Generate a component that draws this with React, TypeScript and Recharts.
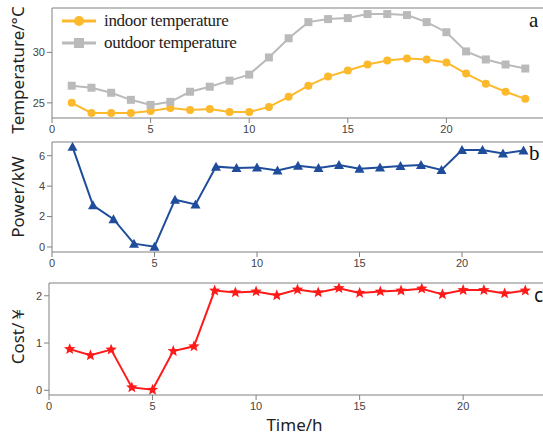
import { LineChart, Line, XAxis, YAxis, ReferenceLine } from "recharts";

const hours = [1, 2, 3, 4, 5, 6, 7, 8, 9, 10, 11, 12, 13, 14, 15, 16, 17, 18, 19, 20, 21, 22, 23, 24];
const indoorTemp = [25.0, 24.0, 24.0, 24.0, 24.2, 24.5, 24.3, 24.4, 24.1, 24.1, 24.6, 25.6, 26.7, 27.6, 28.2, 28.8, 29.2, 29.4, 29.3, 29.0, 27.9, 26.9, 26.1, 25.4];
const outdoorTemp = [26.7, 26.5, 26.0, 25.3, 24.8, 25.1, 26.1, 26.6, 27.2, 27.8, 29.5, 31.4, 33.0, 33.3, 33.4, 33.8, 33.8, 33.7, 33.0, 32.0, 30.1, 29.3, 28.8, 28.4];
const power = [6.58, 2.74, 1.83, 0.22, 0.02, 3.11, 2.8, 5.28, 5.19, 5.23, 5.03, 5.34, 5.19, 5.39, 5.14, 5.23, 5.32, 5.39, 5.06, 6.38, 6.38, 6.14, 6.34];
const cost = [0.87, 0.74, 0.86, 0.06, 0.01, 0.83, 0.93, 2.11, 2.07, 2.09, 2.01, 2.13, 2.07, 2.16, 2.06, 2.09, 2.11, 2.15, 2.03, 2.12, 2.12, 2.05, 2.11];

const xTicks = [0, 5, 10, 15, 20];
const tempTicks = [25, 30];
const powerTicks = [0, 2, 4, 6];
const costTicks = [0, 1, 2];
const tempDomain = [23.5, 34.4];
const powerDomain = [-0.33, 6.9];
const costDomain = [-0.1, 2.27];

const tempData = hours.map((h, i) => ({ hour: h, indoor: indoorTemp[i], outdoor: outdoorTemp[i] }));
const powerData = power.map((v, i) => ({ hour: hours[i], power: v }));
const costData = cost.map((v, i) => ({ hour: hours[i], cost: v }));

const C = {
  indoor: "#fdb92c",
  outdoor: "#bababa",
  power: "#1f4d9c",
  cost: "#ff1a1a",
  axis: "#808080",
  tick: "#444",
};

const tickStyle = { fill: C.tick, fontSize: 11, fontFamily: "Liberation Sans, Arial, sans-serif" };
const titleFont = "Noto Sans, sans-serif";

const CircleDot = (p: any) => <circle key={p.key} cx={p.cx} cy={p.cy} r={4} fill={C.indoor} />;
const SquareDot = (p: any) => <rect key={p.key} x={p.cx - 4} y={p.cy - 4} width={8} height={8} fill={C.outdoor} />;
const TriDot = (p: any) => (
  <path key={p.key} d={`M${p.cx},${p.cy - 5}L${p.cx + 5},${p.cy + 4}L${p.cx - 5},${p.cy + 4}Z`} fill={C.power} />
);
const starPath = (cx: number, cy: number, ro: number, ri: number) => {
  let d = "";
  for (let k = 0; k < 10; k++) {
    const r = k % 2 ? ri : ro;
    const a = -Math.PI / 2 + (k * Math.PI) / 5;
    d += (k ? "L" : "M") + (cx + r * Math.cos(a)).toFixed(2) + "," + (cy + r * Math.sin(a)).toFixed(2);
  }
  return d + "Z";
};
const StarDot = (p: any) => <path key={p.key} d={starPath(p.cx, p.cy, 6, 2.6)} fill={C.cost} />;

const yTitle = (text: string, dx: number, dy: number) => ({
  content: ({ viewBox }: any) => {
    const x = viewBox.x + dx;
    const y = viewBox.y + viewBox.height / 2 + dy;
    return (
      <text x={x} y={y} transform={`rotate(-90 ${x} ${y})`} textAnchor="middle" dominantBaseline="central"
        fontSize={17} fontFamily={titleFont} fill="#222">
        {text}
      </text>
    );
  },
});

// legend of panel a, laid over the chart
const TempLegend = () => (
  <div style={{
    position: "absolute", left: 62, top: 10, fontFamily: "Liberation Serif, Times New Roman, serif",
    fontSize: 17, color: "#222", lineHeight: "22px",
  }}>
    {[
      { name: "indoor temperature", color: C.indoor, marker: <circle cx={17} cy={7} r={5} fill={C.indoor} /> },
      { name: "outdoor temperature", color: C.outdoor, marker: <rect x={12} y={2} width={10} height={10} fill={C.outdoor} /> },
    ].map((r) => (
      <div key={r.name} style={{ display: "flex", alignItems: "center", letterSpacing: -0.3 }}>
        <svg width={34} height={14} style={{ marginRight: 8 }}>
          <line x1={0} y1={7} x2={34} y2={7} stroke={r.color} strokeWidth={3} />
          {r.marker}
        </svg>
        <span>{r.name}</span>
      </div>
    ))}
  </div>
);

const panelLetter = (ch: string, left: number, top: number, serif: boolean) => (
  <div style={{
    position: "absolute", left, top, fontSize: serif ? 21 : 19, color: "#111",
    fontFamily: serif ? "Liberation Serif, serif" : "Noto Sans, sans-serif", lineHeight: 1,
  }}>{ch}</div>
);

export default function App() {
  return (
    <div style={{ position: "absolute", left: 0, top: 0, width: 543, height: 437, overflow: "hidden", background: "#fff" }}>
      <div style={{ position: "absolute", left: 0, top: 0 }}>
        <LineChart width={560} height={142} data={tempData} margin={{ top: 8, right: 15, left: 0, bottom: 0 }}>
          <XAxis dataKey="hour" type="number" domain={[0, 25]} ticks={xTicks} allowDataOverflow height={24}
            tick={tickStyle} stroke={C.axis} tickSize={5} />
          <YAxis type="number" domain={tempDomain} ticks={tempTicks} allowDataOverflow width={52}
            tick={tickStyle} stroke={C.axis} tickSize={5} label={yTitle("Temperature/°C", 17, 7)} />
          <ReferenceLine y={tempDomain[1]} stroke={C.axis} />
          <Line dataKey="indoor" stroke={C.indoor} strokeWidth={2} dot={CircleDot} isAnimationActive={false} />
          <Line dataKey="outdoor" stroke={C.outdoor} strokeWidth={2} dot={SquareDot} isAnimationActive={false} />
        </LineChart>
      </div>
      <TempLegend />
      <div style={{ position: "absolute", left: 0, top: 135 }}>
        <LineChart width={560} height={142} data={powerData} margin={{ top: 7, right: 16, left: 0, bottom: 0 }}>
          <XAxis dataKey="hour" type="number" domain={[0, 24]} ticks={xTicks} allowDataOverflow height={25}
            tick={tickStyle} stroke={C.axis} tickSize={5} />
          <YAxis type="number" domain={powerDomain} ticks={powerTicks} allowDataOverflow width={52}
            tick={tickStyle} stroke={C.axis} tickSize={5} label={yTitle("Power/kW", 17, 0)} />
          <ReferenceLine y={powerDomain[1]} stroke={C.axis} />
          <Line dataKey="power" stroke={C.power} strokeWidth={2} dot={TriDot} isAnimationActive={false} />
        </LineChart>
      </div>
      <div style={{ position: "absolute", left: 0, top: 270 }}>
        <LineChart width={560} height={167} data={costData} margin={{ top: 13, right: 14, left: 0, bottom: 0 }}>
          <XAxis dataKey="hour" type="number" domain={[0, 24]} ticks={xTicks} allowDataOverflow height={42}
            tick={tickStyle} stroke={C.axis} tickSize={5}
            label={{
              content: ({ viewBox }: any) => (
                <text x={viewBox.x + viewBox.width / 2 - 3} y={viewBox.y + 36} textAnchor="middle"
                  fontSize={17} fontFamily={titleFont} fill="#222">Time/h</text>
              ),
            }} />
          <YAxis type="number" domain={costDomain} ticks={costTicks} allowDataOverflow width={49}
            tick={tickStyle} stroke={C.axis} tickSize={5} label={yTitle("Cost/￥", 17, -4)} />
          <ReferenceLine y={costDomain[1]} stroke={C.axis} />
          <Line dataKey="cost" stroke={C.cost} strokeWidth={2} dot={StarDot} isAnimationActive={false} />
        </LineChart>
      </div>
      {panelLetter("a", 529, 10, true)}
      {panelLetter("b", 529, 143, true)}
      {panelLetter("c", 534, 286, false)}
    </div>
  );
}
